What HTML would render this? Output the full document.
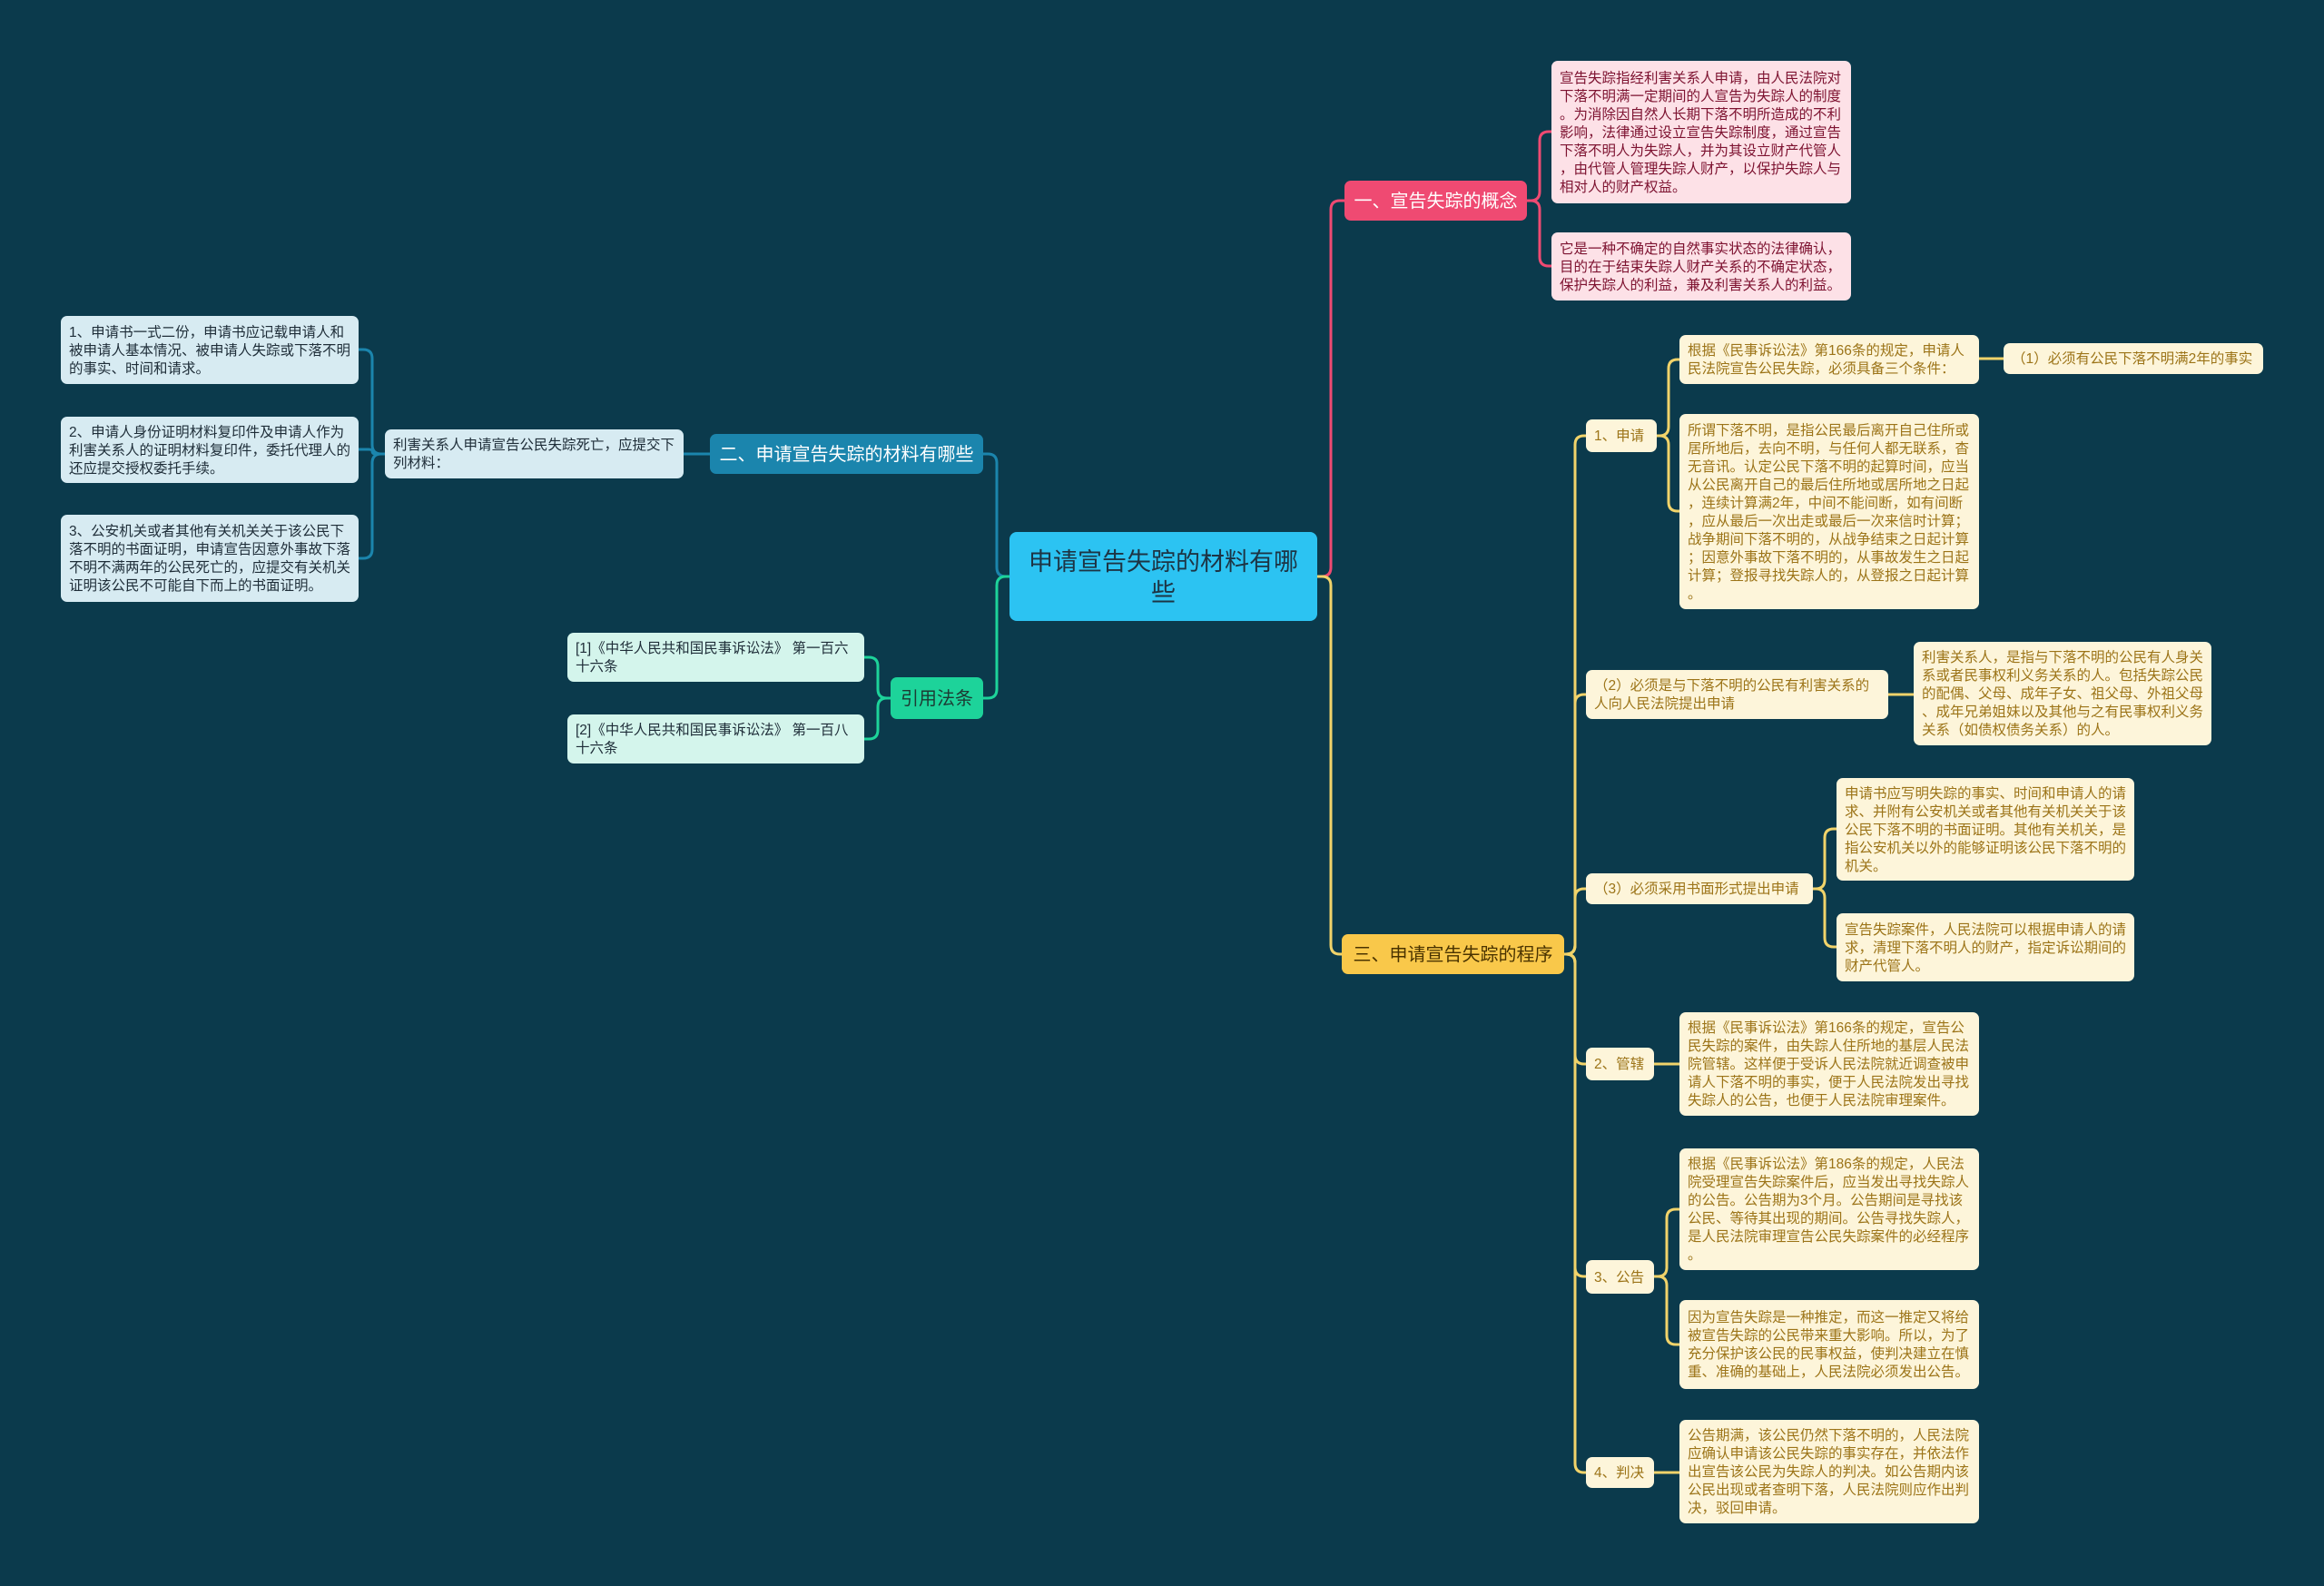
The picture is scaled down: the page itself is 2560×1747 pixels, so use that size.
<!DOCTYPE html>
<html><head><meta charset="utf-8">
<style>
html,body{margin:0;padding:0}
body{width:2560px;height:1747px;background:#0b3a4c;position:relative;overflow:hidden;font-family:"Liberation Sans","Noto Sans CJK SC",sans-serif}
.n{position:absolute;box-sizing:border-box;border-radius:7px;display:flex;align-items:center;padding:5px 9px 3px;font-size:15.5px;line-height:20px;white-space:nowrap}
.pk{background:#fde1e7;color:#7d1230}
.yl{background:#fdf5da;color:#9c7418}
.bl{background:#d7ebf2;color:#1e2d38}
.gr{background:#d4f5ec;color:#1e2d38}
svg{position:absolute;left:0;top:0}
</style></head><body>
<svg width="2560" height="1747" fill="none" stroke-width="3">
<g stroke="#ef4a72">
<path d="M1451,635 L1456,635 Q1466,635 1466,625 L1466,231 Q1466,221 1476,221 L1481,221"/>
<path d="M1682,221 L1686,221 Q1696,221 1696,211 L1696,155 Q1696,145 1706,145 L1709,145"/>
<path d="M1682,221 L1686,221 Q1696,221 1696,231 L1696,283 Q1696,293 1706,293 L1709,293"/>
</g>
<g stroke="#f1d36a">
<path d="M1451,635 L1456,635 Q1466,635 1466,645 L1466,1041 Q1466,1051 1476,1051 L1478,1051"/>
<path d="M1723,1051 L1725,1051 Q1735,1051 1735,1041 L1735,490 Q1735,480 1745,480 L1747,480"/>
<path d="M1723,1051 L1725,1051 Q1735,1051 1735,1041 L1735,775 Q1735,765 1745,765 L1747,765"/>
<path d="M1723,1051 L1725,1051 Q1735,1051 1735,1041 L1735,989 Q1735,979 1745,979 L1747,979"/>
<path d="M1723,1051 L1725,1051 Q1735,1051 1735,1061 L1735,1162 Q1735,1172 1745,1172 L1747,1172"/>
<path d="M1723,1051 L1725,1051 Q1735,1051 1735,1061 L1735,1396 Q1735,1406 1745,1406 L1747,1406"/>
<path d="M1723,1051 L1725,1051 Q1735,1051 1735,1061 L1735,1612 Q1735,1622 1745,1622 L1747,1622"/>
<path d="M1825,480 L1828,480 Q1838,480 1838,470 L1838,406 Q1838,396 1848,396 L1850,396"/>
<path d="M1825,480 L1828,480 Q1838,480 1838,490 L1838,553 Q1838,563 1848,563 L1850,563"/>
<path d="M2180,395 L2207,395"/>
<path d="M2080,765 L2108,765"/>
<path d="M1997,979 L2000,979 Q2010,979 2010,969 L2010,923 Q2010,913 2020,913 L2023,913"/>
<path d="M1997,979 L2000,979 Q2010,979 2010,989 L2010,1033 Q2010,1043 2020,1043 L2023,1043"/>
<path d="M1822,1172 L1850,1172"/>
<path d="M1822,1406 L1826,1406 Q1836,1406 1836,1396 L1836,1342 Q1836,1332 1846,1332 L1850,1332"/>
<path d="M1822,1406 L1826,1406 Q1836,1406 1836,1416 L1836,1471 Q1836,1481 1846,1481 L1850,1481"/>
<path d="M1822,1622 L1850,1622"/>
</g>
<g stroke="#1b85ad">
<path d="M1112,635 L1108,635 Q1098,635 1098,625 L1098,510 Q1098,500 1088,500 L1083,500"/>
<path d="M782,500 L753,500"/>
<path d="M424,500 L420,500 Q410,500 410,490 L410,395 Q410,385 400,385 L395,385"/>
<path d="M424,500 L414,500 Q410,500 410,497 Q410,495 406,495 L395,495"/>
<path d="M424,500 L420,500 Q410,500 410,510 L410,605 Q410,615 400,615 L395,615"/>
</g>
<g stroke="#1dd39a">
<path d="M1112,635 L1108,635 Q1098,635 1098,645 L1098,759 Q1098,769 1088,769 L1083,769"/>
<path d="M981,769 L977,769 Q967,769 967,759 L967,734 Q967,724 957,724 L952,724"/>
<path d="M981,769 L977,769 Q967,769 967,779 L967,804 Q967,814 957,814 L952,814"/>
</g>
</svg>

<div class="n" style="left:1112px;top:586px;width:339px;height:98px;background:#2cc3f2;color:#1d3444;font-size:27px;line-height:34px;justify-content:center;text-align:center;border-radius:8px">申请宣告失踪的材料有哪<br>些</div>

<div class="n" style="left:1481px;top:199px;width:201px;height:44px;background:#ef4a72;color:#fff;font-size:20px;justify-content:center">一、宣告失踪的概念</div>
<div class="n pk" style="left:1709px;top:67px;width:330px;height:157px">宣告失踪指经利害关系人申请，由人民法院对<br>下落不明满一定期间的人宣告为失踪人的制度<br>。为消除因自然人长期下落不明所造成的不利<br>影响，法律通过设立宣告失踪制度，通过宣告<br>下落不明人为失踪人，并为其设立财产代管人<br>，由代管人管理失踪人财产，以保护失踪人与<br>相对人的财产权益。</div>
<div class="n pk" style="left:1709px;top:256px;width:330px;height:75px">它是一种不确定的自然事实状态的法律确认，<br>目的在于结束失踪人财产关系的不确定状态，<br>保护失踪人的利益，兼及利害关系人的利益。</div>

<div class="n" style="left:1478px;top:1029px;width:245px;height:44px;background:#f9c84a;color:#4a3300;font-size:20px;justify-content:center">三、申请宣告失踪的程序</div>
<div class="n yl" style="left:1747px;top:462px;width:78px;height:36px">1、申请</div>
<div class="n yl" style="left:1850px;top:369px;width:330px;height:54px">根据《民事诉讼法》第166条的规定，申请人<br>民法院宣告公民失踪，必须具备三个条件：</div>
<div class="n yl" style="left:2207px;top:378px;width:286px;height:34px">（1）必须有公民下落不明满2年的事实</div>
<div class="n yl" style="left:1850px;top:456px;width:330px;height:215px">所谓下落不明，是指公民最后离开自己住所或<br>居所地后，去向不明，与任何人都无联系，杳<br>无音讯。认定公民下落不明的起算时间，应当<br>从公民离开自己的最后住所地或居所地之日起<br>，连续计算满2年，中间不能间断，如有间断<br>，应从最后一次出走或最后一次来信时计算；<br>战争期间下落不明的，从战争结束之日起计算<br>；因意外事故下落不明的，从事故发生之日起<br>计算；登报寻找失踪人的，从登报之日起计算<br>。</div>
<div class="n yl" style="left:1747px;top:738px;width:333px;height:54px">（2）必须是与下落不明的公民有利害关系的<br>人向人民法院提出申请</div>
<div class="n yl" style="left:2108px;top:707px;width:328px;height:114px">利害关系人，是指与下落不明的公民有人身关<br>系或者民事权利义务关系的人。包括失踪公民<br>的配偶、父母、成年子女、祖父母、外祖父母<br>、成年兄弟姐妹以及其他与之有民事权利义务<br>关系（如债权债务关系）的人。</div>
<div class="n yl" style="left:1747px;top:962px;width:250px;height:34px">（3）必须采用书面形式提出申请</div>
<div class="n yl" style="left:2023px;top:857px;width:328px;height:113px">申请书应写明失踪的事实、时间和申请人的请<br>求、并附有公安机关或者其他有关机关关于该<br>公民下落不明的书面证明。其他有关机关，是<br>指公安机关以外的能够证明该公民下落不明的<br>机关。</div>
<div class="n yl" style="left:2023px;top:1006px;width:328px;height:75px">宣告失踪案件，人民法院可以根据申请人的请<br>求，清理下落不明人的财产，指定诉讼期间的<br>财产代管人。</div>
<div class="n yl" style="left:1747px;top:1154px;width:75px;height:36px">2、管辖</div>
<div class="n yl" style="left:1850px;top:1115px;width:330px;height:114px">根据《民事诉讼法》第166条的规定，宣告公<br>民失踪的案件，由失踪人住所地的基层人民法<br>院管辖。这样便于受诉人民法院就近调查被申<br>请人下落不明的事实，便于人民法院发出寻找<br>失踪人的公告，也便于人民法院审理案件。</div>
<div class="n yl" style="left:1747px;top:1388px;width:75px;height:37px">3、公告</div>
<div class="n yl" style="left:1850px;top:1265px;width:330px;height:134px">根据《民事诉讼法》第186条的规定，人民法<br>院受理宣告失踪案件后，应当发出寻找失踪人<br>的公告。公告期为3个月。公告期间是寻找该<br>公民、等待其出现的期间。公告寻找失踪人，<br>是人民法院审理宣告公民失踪案件的必经程序<br>。</div>
<div class="n yl" style="left:1850px;top:1432px;width:330px;height:98px">因为宣告失踪是一种推定，而这一推定又将给<br>被宣告失踪的公民带来重大影响。所以，为了<br>充分保护该公民的民事权益，使判决建立在慎<br>重、准确的基础上，人民法院必须发出公告。</div>
<div class="n yl" style="left:1747px;top:1605px;width:75px;height:34px">4、判决</div>
<div class="n yl" style="left:1850px;top:1564px;width:330px;height:114px">公告期满，该公民仍然下落不明的，人民法院<br>应确认申请该公民失踪的事实存在，并依法作<br>出宣告该公民为失踪人的判决。如公告期内该<br>公民出现或者查明下落，人民法院则应作出判<br>决，驳回申请。</div>

<div class="n" style="left:782px;top:478px;width:301px;height:44px;background:#1b85ad;color:#fff;font-size:20px;justify-content:center">二、申请宣告失踪的材料有哪些</div>
<div class="n bl" style="left:424px;top:473px;width:329px;height:54px">利害关系人申请宣告公民失踪死亡，应提交下<br>列材料：</div>
<div class="n bl" style="left:67px;top:348px;width:328px;height:75px">1、申请书一式二份，申请书应记载申请人和<br>被申请人基本情况、被申请人失踪或下落不明<br>的事实、时间和请求。</div>
<div class="n bl" style="left:67px;top:459px;width:328px;height:73px">2、申请人身份证明材料复印件及申请人作为<br>利害关系人的证明材料复印件，委托代理人的<br>还应提交授权委托手续。</div>
<div class="n bl" style="left:67px;top:567px;width:328px;height:96px">3、公安机关或者其他有关机关关于该公民下<br>落不明的书面证明，申请宣告因意外事故下落<br>不明不满两年的公民死亡的，应提交有关机关<br>证明该公民不可能自下而上的书面证明。</div>

<div class="n" style="left:981px;top:746px;width:102px;height:46px;background:#1dd39a;color:#1d3a33;font-size:20px;justify-content:center">引用法条</div>
<div class="n gr" style="left:625px;top:697px;width:327px;height:54px">[1]《中华人民共和国民事诉讼法》 第一百六<br>十六条</div>
<div class="n gr" style="left:625px;top:787px;width:327px;height:54px">[2]《中华人民共和国民事诉讼法》 第一百八<br>十六条</div>
</body></html>
